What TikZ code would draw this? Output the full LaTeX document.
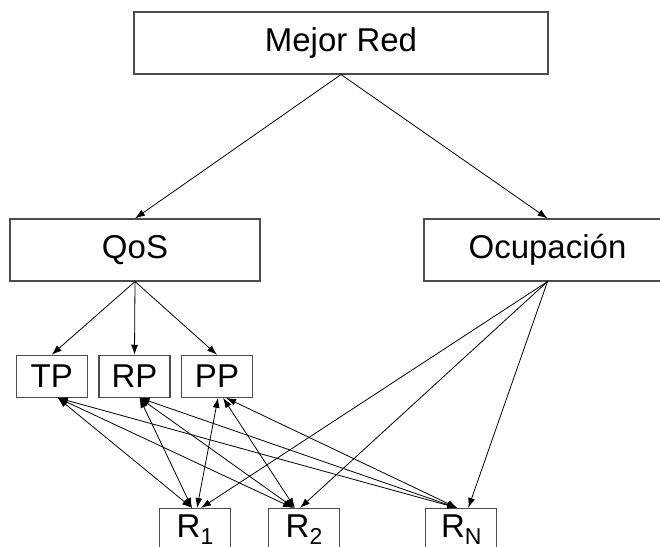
\documentclass[tikz,border=0pt]{standalone}
\usepackage{fontspec}
\setmainfont{Liberation Sans}
\usetikzlibrary{arrows.meta}
\newcommand\rsub[1]{\raisebox{-0.22em}{\fontsize{23}{23}\selectfont #1}}
\begin{document}
\begin{tikzpicture}[x=1pt,y=-1pt,
  box/.style={draw=black!70,line width=1.1pt,inner sep=0pt,font=\fontsize{33}{38}\selectfont},
  big/.style={box,minimum height=62pt},
  small/.style={box,minimum width=71pt,minimum height=42pt},
  tip/.tip={Latex[length=10pt,width=7pt]},
  arr/.style={line width=0.8pt,-tip},
  both/.style={line width=0.8pt,tip-tip}]
\useasboundingbox (0,0) rectangle (660,546);
\clip (0,0) rectangle (660,546);
\node[big,minimum width=414pt] (mejor) at (341,43) {Mejor Red};
\node[big,minimum width=250pt] (qos) at (135,250) {QoS};
\node[big,minimum width=247pt] (ocup) at (547.5,250) {Ocupación};
\node[small] (tp) at (51.7,376.3) {TP};
\node[small] (rp) at (134.5,376.3) {RP};
\node[small] (pp) at (217,376.3) {PP};
\node[small] (r1) at (195,529.5) {R\rsub{1}};
\node[small] (r2) at (304,529.5) {R\rsub{2}};
\node[small] (rn) at (461.3,529.5) {R\rsub{N}};
% top level
\draw[arr] (mejor.south) -- (qos.north);
\draw[arr] (mejor.south) -- (ocup.north);
\draw[arr] (qos.south) -- (tp.north);
\draw[arr] (qos.south) -- (rp.north);
\draw[arr] (qos.south) -- (pp.north);
\draw[arr] (ocup.south) -- ([xshift=6pt]r1.north);
\draw[arr] (ocup.south) -- ([xshift=-4pt]r2.north);
\draw[arr] (ocup.south) -- ([xshift=7pt]rn.north);
% criteria <-> alternatives
\draw[both] ([xshift=6pt]tp.south) -- ([xshift=-3pt]r1.north);
\draw[both] ([xshift=6pt]tp.south) -- ([xshift=-11pt]r2.north);
\draw[both] ([xshift=6pt]tp.south) -- ([xshift=-4pt]rn.north);
\draw[both] ([xshift=5pt]rp.south) -- ([xshift=-3pt]r1.north);
\draw[both] ([xshift=5pt]rp.south) -- ([xshift=-10pt]r2.north);
\draw[both] ([xshift=5pt]rp.south) -- ([xshift=-4pt]rn.north);
\draw[both] ([xshift=1pt]pp.south) -- ([xshift=2pt]r1.north);
\draw[both] ([xshift=6pt]pp.south) -- ([xshift=-9pt]r2.north);
\draw[both] ([xshift=9pt]pp.south) -- ([xshift=-4pt]rn.north);
\end{tikzpicture}
\end{document}
